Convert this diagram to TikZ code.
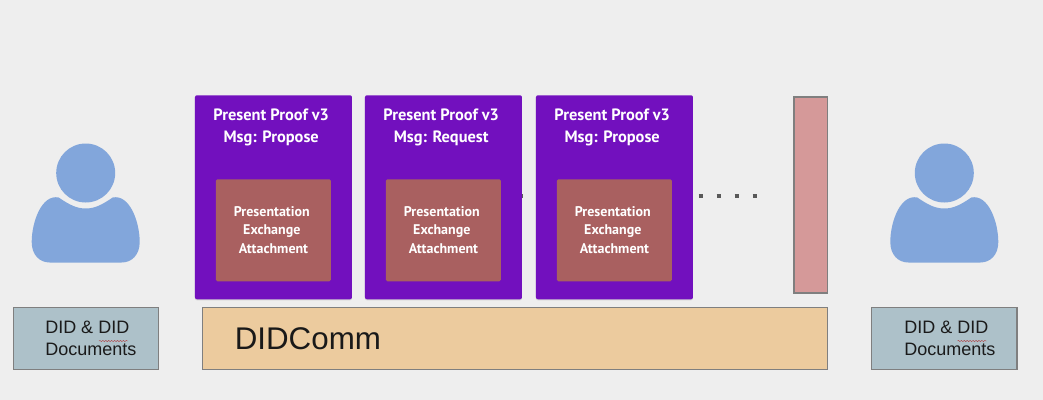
\documentclass[tikz,border=0pt]{standalone}
\usepackage{fontspec}
\setmainfont{Liberation Sans}
\newfontfamily\dinfont{PT Sans}
\usetikzlibrary{shadows,decorations.pathmorphing,calc}
\definecolor{bgc}{HTML}{EEEEEE}
\definecolor{cardc}{HTML}{7210BE}
\definecolor{innerc}{HTML}{A96060}
\definecolor{pinkc}{HTML}{D59999}
\definecolor{orangec}{HTML}{ECCB9E}
\definecolor{slatec}{HTML}{ADC1C9}
\definecolor{personc}{HTML}{82A6DB}
\definecolor{edgec}{HTML}{7F7F7F}
\definecolor{dotc}{HTML}{595959}
\definecolor{inkc}{HTML}{1A1A1A}
\tikzset{
  x=0.75pt,y=-0.75pt,
  card/.style={fill=cardc,rounded corners=1.5pt,minimum width=117.75pt,minimum height=153pt,anchor=north west,inner sep=0pt,
    drop shadow={shadow xshift=0pt,shadow yshift=-0.8pt,opacity=.25}},
  inner card/.style={fill=innerc,rounded corners=1.2pt,minimum width=86.25pt,minimum height=76.5pt,anchor=north west,inner sep=0pt},
  card title/.style={text=white,font=\dinfont\bfseries\fontsize{12.3}{16.5}\selectfont,align=center,inner sep=0pt},
  card body/.style={text=white,font=\dinfont\bfseries\fontsize{10.5}{14}\selectfont,align=center,inner sep=0pt},
  ruled/.style={draw=edgec,line width=1.2pt,anchor=north west,inner sep=0pt},
  did box/.style={ruled,fill=slatec,minimum width=109pt,minimum height=46.5pt},
  did text/.style={text=inkc,font=\fontsize{13.5}{16}\selectfont,align=left,inner sep=0pt,anchor=west},
  squiggle/.style={draw=red!70!black,opacity=.6,line width=.35pt,decorate,decoration={snake,amplitude=.5pt,segment length=2.2pt}},
  dots/.style={draw=dotc,line width=3pt,dash pattern=on 3pt off 10.5pt}
}
\newcommand{\personicon}[1]{%
  \begin{scope}[shift={(#1,0)}]
    \fill[personc] (0,173) circle[radius=29.5];
    \fill[personc] (-27,197.5)
      .. controls (-16,205) and (-9,208.5) .. (0,208.5)
      .. controls (9,208.5) and (16,205) .. (27,197.5)
      .. controls (44,194) and (54,222) .. (54,242)
      .. controls (54,255) and (46,262.5) .. (36,262.5)
      -- (-36,262.5)
      .. controls (-46,262.5) and (-54,255) .. (-54,242)
      .. controls (-54,222) and (-44,194) .. (-27,197.5) -- cycle;
  \end{scope}}
\begin{document}
\begin{tikzpicture}
\useasboundingbox (0,0) rectangle (1043,400);
\fill[bgc] (0,0) rectangle (1043,400);
% dotted run, partly hidden behind the cards
\coordinate (dotstart) at (518.5,196);
\coordinate (dotend) at (757,196);
\draw[dots] (dotstart) -- (dotend);
% person icons
\personicon{85.7}
\personicon{944.3}
% identity boxes
\node[did box] (didL) at (12.5,306.5) {};
\node[did box] (didR) at (870.8,306.5) {};
\node[did text] (didLt) at (45,338.5) {DID \& DID\\Documents};
\node[did text] (didRt) at (904,338.5) {DID \& DID\\Documents};
\draw[squiggle] (99,341) -- (128,341);
\draw[squiggle] (957.5,341) -- (986.5,341);
% transport
\node[ruled,fill=pinkc,minimum width=25pt,minimum height=147pt] (tall) at (793.4,96) {};
\node[ruled,fill=orangec,minimum width=469pt,minimum height=46.5pt] (comm) at (201.5,306.5) {};
\node[anchor=west,inner sep=0pt,text=black!90,font=\fontsize{23.5}{28}\selectfont] (commt) at (234.5,339) {DIDComm};
% cards
\foreach \cx/\msg/\nm in {195/Propose/a,365/Request/b,536/Propose/c}{
  \node[card] (card\nm) at (\cx-0.3,95) {};
  \node[inner card] (inner\nm) at (\cx+20.6,179) {};
  \node[card title] (title\nm) at (\cx+76.2,127.5) {Present Proof v3\\Msg: \msg};
  \node[card body] (body\nm) at (\cx+76.8,230) {Presentation\\Exchange\\\hspace*{2.5pt}Attachment};
}
\end{tikzpicture}
\end{document}
